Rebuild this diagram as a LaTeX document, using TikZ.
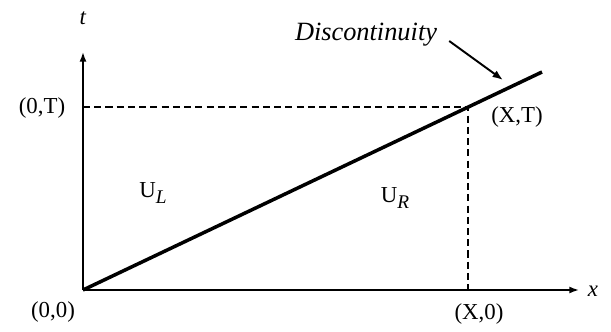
\documentclass[tikz,border=0pt]{standalone}
\usepackage{fontspec}
\setmainfont{Liberation Serif}
\usetikzlibrary{arrows.meta}
\newcommand{\sublow}[1]{\raisebox{-0.55ex}{\fontsize{11}{13}\selectfont\textit{#1}}}
\begin{document}
\begin{tikzpicture}[x=0.02cm,y=-0.02cm,
  every node/.style={font=\fontsize{13}{15}\selectfont},
  axis/.style={line width=1pt,-{Latex[length=5.5pt,width=4pt]}},
  guide/.style={line width=1pt,dash pattern=on 4pt off 2.4pt}]
\useasboundingbox (0,0) rectangle (611,331);
\coordinate (O) at (83,290);
\coordinate (XT) at (468,107);
\coordinate (X0) at (468,290);
\coordinate (T0) at (83,107);
\coordinate (S) at (542,72);
\draw[axis] (O) -- (579,290) coordinate (xend);
\draw[axis] (O) -- (83,52) coordinate (tend);
\node (xlab) at (593,291) {\textit{x}};
\node (tlab) at (83,18) {\textit{t}};
\draw[guide] (T0) -- (XT) -- (X0);
\draw[line width=2pt] (O) -- (S);
\node (ot) at (42,108) {(0,T)};
\node (oo) at (53,312) {(0,0)};
\node (xo) at (479,314) {(X,0)};
\node (xt) at (517,117) {(X,T)};
\node (UL) at (153,193) {U\sublow{L}};
\node (UR) at (395,198) {U\sublow{R}};
\node[font=\fontsize{15}{17}\selectfont\itshape] (disc) at (366,35) {Discontinuity};
\draw[line width=1.1pt,-{Latex[length=6pt,width=4.5pt]}] (disc.east) ++(6,6) -- (503,80);
\end{tikzpicture}
\end{document}
